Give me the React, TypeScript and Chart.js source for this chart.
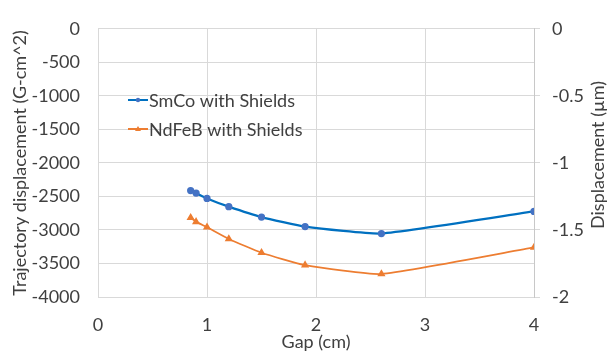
import React, { useEffect, useRef } from "react";
import { Chart, registerables } from "chart.js";

Chart.register(...registerables);

const gaps = [0.85, 0.9, 1.0, 1.2, 1.5, 1.9, 2.6, 4.0];
const smcoValues = [-2413, -2450, -2530, -2653, -2808, -2950, -3053, -2723];
const ndfebValues = [-2817, -2879, -2959, -3134, -3340, -3524, -3656, -3261];
const seriesNames = ["SmCo with Shields", "NdFeB with Shields"];
const leftTitle = "Trajectory displacement (G-cm^2)";
const rightTitle = "Displacement (µm)";
const xTitle = "Gap (cm)";

const FONT = "Lato";
const FS = 18;
const TXT = "#404040";
const GRID = "#d9d9d9";

export default function App() {
  const ref = useRef<HTMLCanvasElement | null>(null);

  useEffect(() => {
    if (!ref.current) return;
    const legendPlugin = {
      id: "customLegend",
      afterDraw(chart: any) {
        const ctx = chart.ctx;
        const items = [
          { name: seriesNames[0], color: "#0070C0", marker: "#4472C4", shape: "circle", y: 100 },
          { name: seriesNames[1], color: "#ED7D31", marker: "#ED7D31", shape: "triangle", y: 129 },
        ];
        ctx.save();
        for (const it of items) {
          ctx.strokeStyle = it.color;
          ctx.lineWidth = 2;
          ctx.beginPath();
          ctx.moveTo(128, it.y);
          ctx.lineTo(148, it.y);
          ctx.stroke();
          ctx.fillStyle = it.marker;
          ctx.beginPath();
          if (it.shape === "circle") {
            ctx.arc(138, it.y, 2.2, 0, Math.PI * 2);
          } else {
            ctx.moveTo(138, it.y - 3);
            ctx.lineTo(141, it.y + 2);
            ctx.lineTo(135, it.y + 2);
            ctx.closePath();
          }
          ctx.fill();
          ctx.fillStyle = TXT;
          ctx.font = `${FS}px ${FONT}`;
          ctx.textAlign = "left";
          ctx.textBaseline = "middle";
          ctx.fillText(it.name, 149, it.y + 1);
        }
        ctx.translate(598, 155);
        ctx.rotate(-Math.PI / 2);
        ctx.textAlign = "center";
        ctx.textBaseline = "middle";
        ctx.font = `${FS}px ${FONT}`;
        ctx.fillStyle = TXT;
        ctx.fillText(rightTitle, 0, 0);
        ctx.restore();
      },
    };

    const fmt = (v: any) => String(v);

    const chart = new Chart(ref.current, {
      type: "line",
      data: {
        datasets: [
          {
            label: seriesNames[0],
            data: gaps.map((g, i) => ({ x: g, y: smcoValues[i] })),
            borderColor: "#0070C0",
            backgroundColor: "#4472C4",
            pointBackgroundColor: "#4472C4",
            pointBorderColor: "#4472C4",
            borderWidth: 2.25,
            pointRadius: 2.5,
            pointStyle: "circle",
            tension: 0.15,
            yAxisID: "y",
          },
          {
            label: seriesNames[1],
            data: gaps.map((g, i) => ({ x: g, y: ndfebValues[i] })),
            borderColor: "#ED7D31",
            backgroundColor: "#ED7D31",
            pointBackgroundColor: "#ED7D31",
            pointBorderColor: "#ED7D31",
            borderWidth: 1.75,
            pointRadius: 3,
            pointStyle: "triangle",
            tension: 0.15,
            yAxisID: "y",
          },
        ],
      },
      options: {
        animation: false,
        responsive: false,
        layout: { padding: { top: 13, left: 0, right: 0, bottom: 0 } },
        plugins: { legend: { display: false }, tooltip: { enabled: false } },
        scales: {
          x: {
            type: "linear",
            min: 0,
            max: 4,
            ticks: { stepSize: 1, color: TXT, font: { family: FONT, size: FS }, padding: 17, callback: fmt },
            grid: { color: GRID, drawTicks: false, lineWidth: 1 },
            border: { display: true, color: GRID },
            title: { display: true, text: xTitle, color: TXT, font: { family: FONT, size: FS }, padding: { top: 0, bottom: 11 } },
            afterFit: (s: any) => { s.height = 67; },
          },
          y: {
            type: "linear",
            position: "left",
            min: -4000,
            max: 0,
            ticks: { stepSize: 500, color: TXT, font: { family: FONT, size: FS }, padding: 18, callback: fmt },
            grid: { color: GRID, drawTicks: false, lineWidth: 1 },
            border: { display: true, color: GRID },
            title: { display: true, text: leftTitle, color: TXT, font: { family: FONT, size: FS }, padding: { top: 9, bottom: 0 } },
            afterFit: (s: any) => { s.width = 98; },
          },
          y1: {
            type: "linear",
            position: "right",
            min: -2,
            max: 0,
            ticks: { stepSize: 0.5, color: TXT, font: { family: FONT, size: FS }, padding: 12, callback: fmt },
            grid: { color: GRID, drawOnChartArea: false, drawTicks: true, tickLength: 6 },
            border: { display: true, color: "#c8c8c8" },
            afterFit: (s: any) => { s.width = 73; },
          },
        },
      } as any,
      plugins: [legendPlugin],
    });
    return () => chart.destroy();
  }, []);

  return (
    <div style={{ position: "absolute", left: 0, top: 0, width: 607, height: 364, background: "#fff" }}>
      <canvas ref={ref} width={607} height={364} />
    </div>
  );
}
